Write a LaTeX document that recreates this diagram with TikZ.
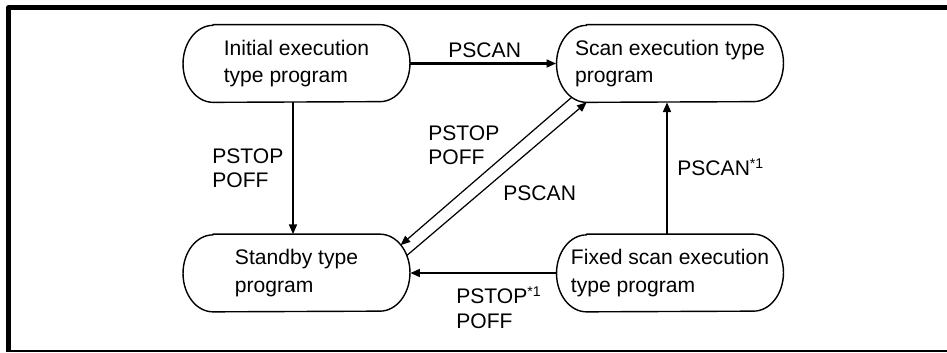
\documentclass[tikz,border=0pt]{standalone}
\usepackage{fontspec}
\setmainfont{Liberation Sans}
\usetikzlibrary{shapes.misc,arrows.meta}

\begin{document}
\begin{tikzpicture}[x=0.02cm, y=-0.02cm, line join=round,
	prog/.style={rounded rectangle, rounded rectangle arc length=120, minimum width=4.54cm, minimum height=1.54cm, inner sep=0pt, align=left, font=\fontsize{12}{15.5}\selectfont},
	lbl/.style={anchor=north west, inner sep=0pt, align=left, font=\fontsize{12}{14}\selectfont},
	arr/.style={-{Triangle[length=5.5pt,width=4.5pt]}, line width=1pt}]
	\useasboundingbox (0,0) rectangle (947,352);
	\draw[line width=2.8pt] (947,7.5) -- (8.5,7.5) -- (8.5,352);
	\draw[line width=0.9pt] (8.5,351) -- (947,351);
	\node[prog] (init) at (296.5,63.5) {Initial execution\\type program};
	\node[prog] (scan) at (670,63.5) {Scan execution type\\program};
	\node[prog] (stby) at (296.5,273) {Standby type\\program};
	\node[prog] (fixed) at (670,273) {Fixed scan execution\\type program};
	% outlines with elliptic ends
	\foreach \n in {init,scan,stby,fixed}
		\draw[line width=0.8pt] ([xshift=-1.67cm]\n.north) -- ([xshift=1.67cm]\n.north)
			arc[start angle=90, end angle=-90, x radius=0.6cm, y radius=0.77cm]
			-- ([xshift=-1.67cm]\n.south)
			arc[start angle=270, end angle=90, x radius=0.6cm, y radius=0.77cm] -- cycle;
	\draw[arr, line width=1.2pt] (init.east) -- (scan.west);
	\draw[arr] ([xshift=-0.07cm]init.south) -- ([xshift=-0.07cm]stby.north);
	\draw[arr] ([xshift=-0.06cm]fixed.north) -- ([xshift=-0.06cm]scan.south);
	\draw[arr, line width=1.2pt] (fixed.west) -- (stby.east);
	\draw[arr, line width=0.7pt] (scan.199) -- (stby.15);
	\draw[arr, line width=0.7pt] (stby.9) -- (scan.205.5);
	\node[lbl] (l1) at (448,42) {PSCAN};
	\node[lbl] (l2) at (212,148) {PSTOP\\POFF};
	\node[lbl] (l3) at (428,125) {PSTOP\\POFF};
	\node[lbl] (l4) at (503,185) {PSCAN};
	\node[lbl] (l5) at (677,158) {PSCAN\textsuperscript{*1}};
	\node[lbl] (l6) at (456,286) {PSTOP\textsuperscript{*1}\\POFF};
\end{tikzpicture}
\end{document}
